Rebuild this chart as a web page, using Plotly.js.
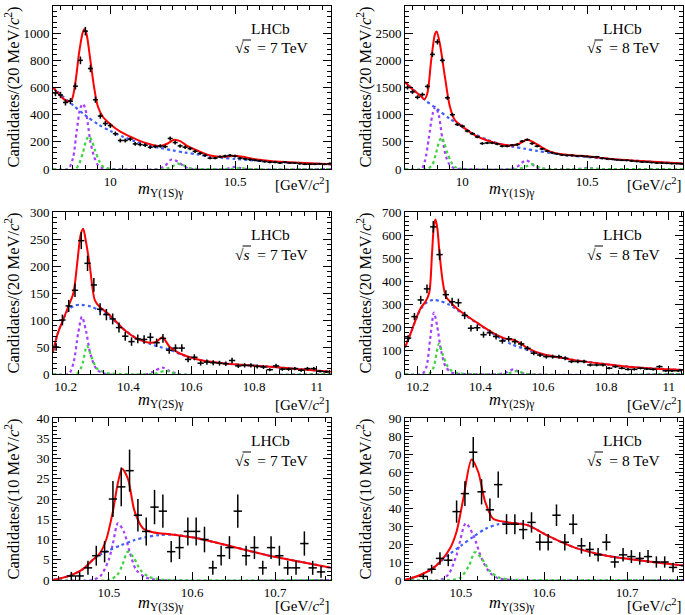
<!DOCTYPE html>
<html><head><meta charset="utf-8">
<script src="https://cdn.plot.ly/plotly-3.0.1.min.js"></script>
<style>body{margin:0;background:#fff}#c{width:685px;height:615px}</style>
</head><body><div id="c"></div>
<script>
// ---------- data: bin centres ----------
const bins1S = [9.78,9.80,9.82,9.84,9.86,9.88,9.90,9.92,9.94,9.96,9.98,10.00,10.02,10.04,10.06,10.08,10.10,10.12,10.14,10.16,10.18,10.20,10.22,10.24,10.26,10.28,10.30,10.32,10.34,10.36,10.38,10.40,10.42,10.44,10.46,10.48,10.50,10.52,10.54,10.56,10.58,10.60,10.62,10.64,10.66,10.68,10.70,10.72,10.74,10.76,10.78,10.80,10.82,10.84,10.86,10.88];
const bins2S = [10.17,10.19,10.21,10.23,10.25,10.27,10.29,10.31,10.33,10.35,10.37,10.39,10.41,10.43,10.45,10.47,10.49,10.51,10.53,10.55,10.57,10.59,10.61,10.63,10.65,10.67,10.69,10.71,10.73,10.75,10.77,10.79,10.81,10.83,10.85,10.87,10.89,10.91,10.93,10.95,10.97,10.99,11.01,11.03];
const bins3S = [10.455,10.465,10.475,10.485,10.495,10.505,10.515,10.525,10.535,10.545,10.555,10.565,10.575,10.585,10.595,10.605,10.615,10.625,10.635,10.645,10.655,10.665,10.675,10.685,10.695,10.705,10.715,10.725,10.735,10.745,10.755];

// ---------- data: candidate counts ----------
const n1S_7 = [560,545,490,500,610,800,1015,740,510,390,335,320,260,210,210,220,185,180,175,160,165,170,165,225,195,170,160,150,130,115,100,80,80,90,95,100,95,80,75,70,65,60,55,50,50,45,50,45,45,40,35,35,35,38,35,40];
const n1S_8 = [1500,1420,1320,1370,1520,2110,2340,2000,1310,1000,820,790,700,650,590,470,480,480,460,420,420,440,450,510,540,470,420,370,330,300,280,260,250,250,240,240,230,220,225,200,190,180,170,160,160,150,140,130,130,120,110,110,105,100,100,95];
const n2S_7 = [50,100,126,155,247,205,165,120,110,102,86,70,60,65,64,68,58,66,44,48,48,27,31,20,22,21,20,19,25,15,16,16,14,13,8,15,9,9,10,7,10,10,5,4];
const n2S_8 = [155,248,320,368,636,516,343,312,308,253,198,200,170,178,162,143,152,140,130,111,90,82,75,75,75,68,54,54,54,39,39,39,25,32,25,20,20,25,22,20,32,14,14,14];
const n3S_7 = [1,1,3,6,7,20,23,27,16,12,18,17,7,8,12,12,10,3,6,8,17,6,8,3,8,6,3,3,9,3,2];
const n3S_8 = [2,6,12,11,38,48,71,49,39,53,31,31,28,32,21,21,36,21,31,19,17,14,21,10,14,13,12,13,10,10,7];

// ---------- fit curves ----------
const f1_7_totX = [9.77,9.79,9.81,9.83,9.845,9.86,9.875,9.89,9.897,9.905,9.92,9.935,9.95,9.97,10.0,10.04,10.08,10.12,10.16,10.2,10.23,10.255,10.28,10.31,10.35,10.4,10.45,10.5,10.53,10.58,10.65,10.72,10.8,10.885];
const f1_7_tot  = [600,560,520,497,510,640,860,1010,1030,990,800,600,460,385,330,275,238,205,182,170,188,215,205,168,135,100,90,98,90,72,57,50,42,35];
const f1_7_bkgX = [9.77,9.8,9.85,9.9,9.95,10.0,10.05,10.1,10.15,10.2,10.25,10.3,10.35,10.4,10.45,10.5,10.55,10.6,10.7,10.8,10.885];
const f1_7_bkg  = [600,550,470,395,330,280,238,203,175,155,137,121,107,92,82,74,66,59,48,40,34];
const f1_7_s1X = [9.77,9.83,9.85,9.865,9.88,9.89,9.90,9.91,9.92,9.935,9.95,9.97,10.0,10.19,10.22,10.245,10.27,10.3,10.33,10.46,10.5,10.54,10.885];
const f1_7_s1  = [0,0,80,280,450,480,440,330,200,90,30,5,0,0,25,70,55,15,0,0,15,0,0];
const f1_7_s2X = [9.77,9.86,9.875,9.89,9.905,9.915,9.925,9.94,9.955,9.97,10.0,10.22,10.25,10.27,10.29,10.32,10.35,10.48,10.52,10.56,10.885];
const f1_7_s2  = [0,0,40,120,220,240,210,130,60,20,0,0,20,40,30,5,0,0,7,0,0];

const f1_8_totX = [9.77,9.80,9.83,9.848,9.86,9.875,9.89,9.897,9.91,9.93,9.95,9.97,10.0,10.05,10.1,10.15,10.2,10.23,10.26,10.29,10.32,10.35,10.4,10.45,10.5,10.55,10.6,10.7,10.8,10.885];
const f1_8_tot  = [1600,1470,1355,1285,1400,2000,2480,2530,2300,1700,1150,900,780,625,525,462,432,470,540,480,395,325,272,250,235,208,182,150,122,100];
const f1_8_bkgX = [9.77,9.8,9.85,9.9,9.95,10.0,10.05,10.1,10.15,10.2,10.25,10.3,10.35,10.4,10.45,10.5,10.55,10.6,10.7,10.8,10.885];
const f1_8_bkg  = [1600,1480,1270,1100,925,772,638,538,462,413,373,333,298,266,242,219,199,179,148,121,99];
const f1_8_s1X = [9.77,9.835,9.85,9.865,9.88,9.892,9.905,9.92,9.935,9.95,9.97,10.0,10.19,10.22,10.24,10.255,10.27,10.29,10.31,10.34,10.46,10.5,10.54,10.885];
const f1_8_s1  = [0,0,150,550,1000,1145,1000,550,220,70,10,0,0,40,120,160,130,50,10,0,0,22,0,0];
const f1_8_s2X = [9.77,9.86,9.88,9.895,9.908,9.917,9.928,9.94,9.955,9.97,10.0,10.22,10.245,10.262,10.277,10.292,10.31,10.34,10.48,10.52,10.56,10.885];
const f1_8_s2  = [0,0,80,300,520,580,470,290,130,40,0,0,25,60,90,65,25,0,0,10,0,0];

const f2_7_totX = [10.16,10.175,10.192,10.208,10.225,10.238,10.248,10.256,10.265,10.277,10.293,10.309,10.341,10.383,10.426,10.468,10.49,10.508,10.532,10.564,10.628,10.734,10.84,10.946,11.045];
const f2_7_tot  = [41,75,100,124,150,210,258,269,245,201,137,124,109,84,66,58,60,68,50,38,26,18,14,9,4];
const f2_7_bkgX = [10.16,10.175,10.192,10.21,10.23,10.25,10.28,10.31,10.341,10.383,10.426,10.468,10.5,10.532,10.564,10.628,10.734,10.84,10.946,11.045];
const f2_7_bkg  = [41,75,100,120,127,128,125,117,106,84,66,56,50,45,37,26,18,14,9,4];
const f2_7_s1X = [10.16,10.21,10.225,10.24,10.252,10.265,10.28,10.30,10.33,10.46,10.485,10.507,10.53,10.56,11.045];
const f2_7_s1  = [0,0,20,75,106,80,35,8,0,0,6,12,6,0,0];
const f2_7_s2X = [10.16,10.235,10.252,10.268,10.285,10.30,10.33,10.38,10.48,10.52,10.555,11.045];
const f2_7_s2  = [0,0,15,52,28,10,2,0,0,6,0,0];

const f2_8_totX = [10.16,10.175,10.19,10.21,10.225,10.237,10.246,10.252,10.257,10.263,10.27,10.28,10.29,10.3,10.32,10.35,10.4,10.45,10.48,10.505,10.525,10.55,10.6,10.65,10.7,10.8,10.9,11.0,11.045];
const f2_8_tot  = [115,165,220,285,312,350,520,640,668,630,520,400,335,318,290,258,212,170,153,148,135,112,85,72,60,42,28,20,17];
const f2_8_bkgX = [10.16,10.175,10.19,10.21,10.23,10.25,10.27,10.3,10.35,10.4,10.45,10.5,10.55,10.6,10.65,10.7,10.8,10.9,11.0,11.045];
const f2_8_bkg  = [115,165,220,280,310,320,316,300,255,210,166,128,104,84,72,60,42,28,20,17];
const f2_8_s1X = [10.16,10.215,10.228,10.24,10.252,10.262,10.275,10.29,10.31,10.35,10.46,10.485,10.505,10.525,10.55,11.045];
const f2_8_s1  = [0,0,30,150,265,210,100,30,5,0,0,8,20,8,0,0];
const f2_8_s2X = [10.16,10.235,10.25,10.268,10.28,10.295,10.31,10.33,10.38,10.48,10.515,10.55,11.045];
const f2_8_s2  = [0,0,25,130,85,35,12,3,0,0,12,0,0];

const f3_7_totX = [10.433,10.44,10.455,10.469,10.481,10.489,10.497,10.505,10.511,10.516,10.523,10.531,10.541,10.553,10.577,10.609,10.649,10.689,10.73,10.767];
const f3_7_tot  = [0,0.3,1.2,2.7,5,6.5,10,17,24,27.5,25,17,12.8,11.8,11.2,10.2,8.2,6.2,4.5,3];
const f3_7_bkgX = [10.433,10.44,10.455,10.469,10.481,10.49,10.5,10.515,10.53,10.545,10.56,10.577,10.609,10.649,10.689,10.73,10.767];
const f3_7_bkg  = [0,0.3,1.2,2.7,5,6.3,7.3,8.6,9.8,10.6,11.1,11.2,10.2,8.2,6.2,4.5,3];
const f3_7_s1X = [10.433,10.48,10.49,10.5,10.505,10.511,10.518,10.525,10.533,10.545,10.56,10.767];
const f3_7_s1  = [0,0,1,5,9,14,12,7,2.5,0.6,0,0];
const f3_7_s2X = [10.433,10.5,10.51,10.516,10.523,10.53,10.538,10.548,10.56,10.575,10.767];
const f3_7_s2  = [0,0,1.2,3.5,7,5.5,2.5,0.8,0.2,0,0];

const f3_8_totX = [10.433,10.45,10.465,10.475,10.487,10.495,10.503,10.513,10.521,10.529,10.539,10.557,10.58,10.605,10.637,10.675,10.7,10.767];
const f3_8_tot  = [0,2.5,6,10,17.5,27,45,67,60,44,34,32,30.5,24.5,18,13.5,11.8,8];
const f3_8_bkgX = [10.433,10.45,10.465,10.475,10.487,10.5,10.515,10.53,10.545,10.56,10.58,10.605,10.637,10.675,10.7,10.767];
const f3_8_bkg  = [0,2.5,6,10,14.5,19,24,28.5,31,31.8,30.5,24.5,18,13.5,11.8,8];
const f3_8_s1X = [10.433,10.475,10.485,10.495,10.506,10.515,10.525,10.535,10.545,10.56,10.767];
const f3_8_s1  = [0,0,3,14,31.5,25,12,4,1,0,0];
const f3_8_s2X = [10.433,10.49,10.5,10.51,10.517,10.525,10.535,10.545,10.56,10.58,10.767];
const f3_8_s2  = [0,0,1.5,8,15.5,12,5,1.5,0.3,0,0];

// ---------- text ----------
const xTitles = ['Υ(1S)γ','Υ(1S)γ','Υ(2S)γ','Υ(2S)γ','Υ(3S)γ','Υ(3S)γ'];
const yTitles = ['Candidates/(20 MeV/<i>c</i><sup>2</sup>)','Candidates/(20 MeV/<i>c</i><sup>2</sup>)','Candidates/(20 MeV/<i>c</i><sup>2</sup>)','Candidates/(20 MeV/<i>c</i><sup>2</sup>)','Candidates/(10 MeV/<i>c</i><sup>2</sup>)','Candidates/(10 MeV/<i>c</i><sup>2</sup>)'];
const energies = ['7','8','7','8','7','8'];

// ---------- styling / layout ----------
const FONT = '"Liberation Serif", "DejaVu Serif", serif';
const W = 685, H = 615;
const X = p => p / W, Y = p => 1 - p / H;
const colL = [53, 405], PW = 278;
const rowT = [6, 212, 418], rowB = [169, 374, 580];
const unitDy = [15, 30, 25], mDy = [20, 26, 23];
const xr = [[9.77,10.885],[9.77,10.885],[10.16,11.045],[10.16,11.045],[10.433,10.767],[10.433,10.767]];
const xd = [[0.5,0.05],[0.5,0.05],[0.2,0.04],[0.2,0.04],[0.1,0.02],[0.1,0.02]];
const yr = [1200,3000,300,700,40,90];
const yd = [[200,40],[500,100],[50,10],[100,20],[5,1],[10,2]];
const halfBin = [0.01,0.01,0.01,0.01,0.005,0.005];

const panels = [
  {bx: bins1S, n: n1S_7, c: [f1_7_s1X,f1_7_s1,f1_7_s2X,f1_7_s2,f1_7_bkgX,f1_7_bkg,f1_7_totX,f1_7_tot]},
  {bx: bins1S, n: n1S_8, c: [f1_8_s1X,f1_8_s1,f1_8_s2X,f1_8_s2,f1_8_bkgX,f1_8_bkg,f1_8_totX,f1_8_tot]},
  {bx: bins2S, n: n2S_7, c: [f2_7_s1X,f2_7_s1,f2_7_s2X,f2_7_s2,f2_7_bkgX,f2_7_bkg,f2_7_totX,f2_7_tot]},
  {bx: bins2S, n: n2S_8, c: [f2_8_s1X,f2_8_s1,f2_8_s2X,f2_8_s2,f2_8_bkgX,f2_8_bkg,f2_8_totX,f2_8_tot]},
  {bx: bins3S, n: n3S_7, c: [f3_7_s1X,f3_7_s1,f3_7_s2X,f3_7_s2,f3_7_bkgX,f3_7_bkg,f3_7_totX,f3_7_tot]},
  {bx: bins3S, n: n3S_8, c: [f3_8_s1X,f3_8_s1,f3_8_s2X,f3_8_s2,f3_8_bkgX,f3_8_bkg,f3_8_totX,f3_8_tot]}
];

const styles = [
  {color:'#a640ff', width:2.2, dash:'dot'},
  {color:'#3fd43f', width:2.2, dash:'dot'},
  {color:'#3f5fff', width:2.2, dash:'dot'},
  {color:'#ff0000', width:2, dash:'solid'}
];

const traces = [];
const layout = {
  width: W, height: H, margin: {l:0,r:0,t:0,b:0},
  paper_bgcolor: '#fff', plot_bgcolor: '#fff', showlegend: false,
  font: {family: FONT, size: 13, color: '#000'},
  annotations: [], shapes: []
};

panels.forEach((p, i) => {
  const col = i % 2, row = Math.floor(i / 2);
  const sfx = i === 0 ? '' : String(i + 1);
  const xa = 'x' + sfx, ya = 'y' + sfx;
  const L = colL[col], T = rowT[row], B = rowB[row];
  for (let k = 0; k < 4; k++) {
    traces.push({x: p.c[2*k], y: p.c[2*k+1], xaxis: xa, yaxis: ya, type: 'scatter', mode: 'lines',
      line: Object.assign({shape: 'spline', smoothing: 0.8}, styles[k]), hoverinfo: 'skip'});
  }
  traces.push({x: p.bx, y: p.n, xaxis: xa, yaxis: ya, type: 'scatter', mode: 'markers',
    marker: {size: 2, color: '#000'},
    error_y: {type: 'sqrt', width: 0, thickness: 1.5, color: '#000'},
    error_x: {type: 'constant', value: halfBin[i], width: 0, thickness: 1.5, color: '#000'}});

  const common = {showline: true, linecolor: '#000', linewidth: 1, mirror: 'ticks', ticks: 'inside',
    tickcolor: '#000', tickwidth: 1, ticklen: 8, showgrid: false, zeroline: false,
    tickfont: {family: FONT, size: 13, color: '#000'}};
  layout['xaxis' + sfx] = Object.assign({}, common, {
    domain: [X(L), X(L + PW)], anchor: ya, range: xr[i], dtick: xd[i][0], tick0: 0,
    minor: {dtick: xd[i][1], ticks: 'inside', ticklen: 4, tickcolor: '#000', tickwidth: 1}});
  layout['yaxis' + sfx] = Object.assign({}, common, {
    domain: [Y(B), Y(T)], anchor: xa, range: [0, yr[i] * 1.0002], dtick: yd[i][0], tick0: 0,
    minor: {dtick: yd[i][1], ticks: 'inside', ticklen: 4, tickcolor: '#000', tickwidth: 1}});

  const A = layout.annotations;
  A.push({xref:'paper', yref:'paper', x: X(L + 196), y: Y(T + 22), xanchor:'left', yanchor:'middle',
    text: 'LHCb', showarrow: false, font: {family: FONT, size: 15.5}});
  A.push({xref:'paper', yref:'paper', x: X(L + 180), y: Y(T + 42), xanchor:'left', yanchor:'middle',
    text: '√<i>s</i>  = ' + energies[i] + ' TeV', showarrow: false, font: {family: FONT, size: 15.5}});
  layout.shapes.push({type:'line', xref:'paper', yref:'paper', x0: X(L + 189.5), x1: X(L + 198),
    y0: Y(T + 34), y1: Y(T + 34), line: {color:'#000', width: 1}});
  A.push({xref:'paper', yref:'paper', x: X(L - 40), y: Y(T - 1), xanchor:'center', yanchor:'top', textangle: -90,
    text: yTitles[i], showarrow: false, font: {family: FONT, size: 16.5}});
  A.push({xref:'paper', yref:'paper', x: X(L + 107), y: Y(B + mDy[row]), xanchor:'center', yanchor:'middle',
    text: '<i>m</i><sub>' + xTitles[i] + '</sub>', showarrow: false, font: {family: FONT, size: 16.5}});
  A.push({xref:'paper', yref:'paper', x: X(L + PW), y: Y(B + unitDy[row]), xanchor:'right', yanchor:'middle',
    text: '[GeV/<i>c</i><sup>2</sup>]', showarrow: false, font: {family: FONT, size: 15}});
});

Plotly.newPlot('c', traces, layout, {staticPlot: true});
</script></body></html>
